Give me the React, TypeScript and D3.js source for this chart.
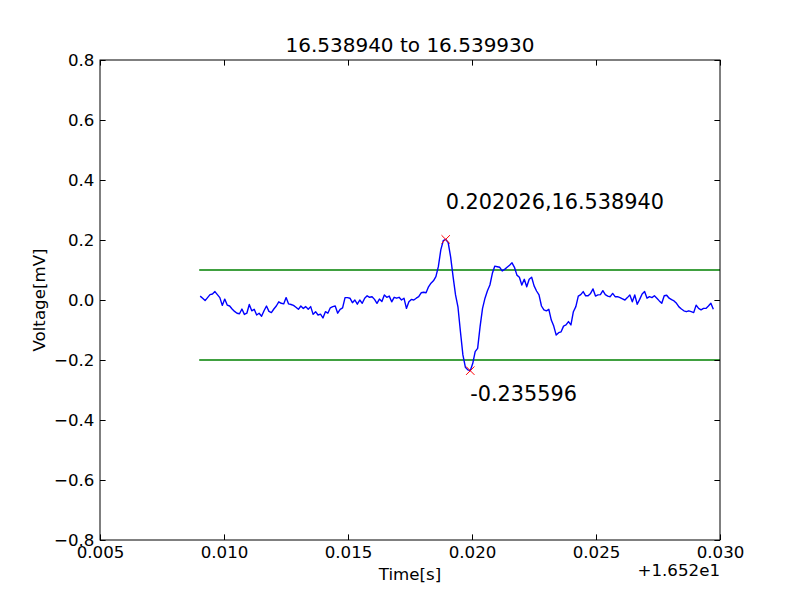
import * as d3 from "d3";
import { useRef, useEffect } from "react";

// recorded voltage samples (mV), one every samplePeriod seconds from sampleStart
const sampleStart = 0.00904; // relative to the 16.52 s offset
const samplePeriod = 0.000099;
const voltage = [
  0.013, 0.006, -0.002, 0.008, 0.018, 0.020, 0.028, 0.018, 0.008, -0.018,
  0.003, -0.017, -0.020, -0.030, -0.038, -0.044, -0.046, -0.030, -0.048, -0.044,
  -0.015, -0.036, -0.031, -0.050, -0.044, -0.054, -0.036, -0.020, -0.038, -0.042,
  -0.030, -0.020, -0.006, -0.011, -0.013, 0.008, -0.013, -0.015, -0.018, -0.024,
  -0.031, -0.020, -0.028, -0.022, -0.031, -0.022, -0.048, -0.039, -0.050, -0.047,
  -0.060, -0.039, -0.044, -0.026, -0.022, -0.020, -0.044, -0.031, -0.026, 0.008,
  0.008, 0.006, -0.009, 0.000, -0.014, 0.000, -0.011, 0.006, 0.014, 0.009,
  0.011, 0.002, -0.011, 0.003, -0.005, 0.017, 0.009, 0.013, -0.006, 0.009,
  0.006, 0.009, 0.000, 0.006, -0.028, -0.006, 0.002, 0.000, 0.006, 0.011,
  0.024, 0.026, 0.024, 0.044, 0.056, 0.064, 0.078, 0.111, 0.167, 0.198,
  0.202026, 0.191, 0.144, 0.078, 0.017, -0.024, -0.106, -0.183, -0.224, -0.233,
  -0.235596, -0.212, -0.172, -0.161, -0.089, -0.028, 0.006, 0.031, 0.050, 0.089,
  0.113, 0.111, 0.109, 0.097, 0.102, 0.109, 0.116, 0.124, 0.109, 0.083,
  0.076, 0.050, 0.069, 0.044, 0.069, 0.076, 0.047, 0.030, 0.017, -0.020,
  -0.033, -0.036, -0.031, -0.067, -0.087, -0.117, -0.109, -0.106, -0.087, -0.083,
  -0.072, -0.083, -0.039, -0.022, 0.013, 0.018, 0.028, 0.014, 0.014, 0.022,
  0.037, 0.013, 0.017, 0.018, 0.031, 0.018, 0.013, 0.011, 0.022, 0.011,
  0.011, 0.008, 0.004, 0.000, 0.008, 0.017, -0.006, 0.017, -0.014, 0.002,
  0.020, 0.028, 0.006, 0.011, 0.008, 0.014, 0.006, -0.003, -0.011, 0.014,
  0.016, 0.006, 0.001, -0.003, -0.011, -0.023, -0.030, -0.036, -0.039, -0.036,
  -0.039, -0.042, -0.017, -0.028, -0.033, -0.028, -0.028, -0.020, -0.011, -0.031,
];

const timeOffset = 16.52;
const peak = { time: 16.53894, value: 0.202026 };
const trough = { time: 16.53993, value: -0.235596 };
const thresholds = [0.1, -0.2];
const thresholdSpan = [0.009, 0.030];

const xTicks = [0.005, 0.010, 0.015, 0.020, 0.025, 0.030];
const yTicks = [-0.8, -0.6, -0.4, -0.2, 0.0, 0.2, 0.4, 0.6, 0.8];

const width = 800;
const height = 600;
const margin = { top: 60, right: 80, bottom: 60, left: 100 };
const font = "'DejaVu Sans', sans-serif";

export default function App() {
  const ref = useRef(null);

  useEffect(() => {
    const svg = d3.select(ref.current);
    svg.selectAll("*").remove();

    const x = d3.scaleLinear().domain([0.005, 0.030]).range([margin.left, width - margin.right]);
    const y = d3.scaleLinear().domain([-0.8, 0.8]).range([height - margin.bottom, margin.top]);
    const tickLen = 5.6;

    svg.append("rect").attr("width", width).attr("height", height).attr("fill", "#fff");

    // threshold lines
    svg.selectAll(".thr")
      .data(thresholds)
      .join("line")
      .attr("x1", x(thresholdSpan[0]))
      .attr("x2", x(thresholdSpan[1]))
      .attr("y1", d => y(d))
      .attr("y2", d => y(d))
      .attr("stroke", "#008000")
      .attr("stroke-width", 1.4);

    const line = d3.line()
      .x((d, i) => x(sampleStart + i * samplePeriod))
      .y(d => y(d));

    svg.append("path")
      .attr("d", line(voltage))
      .attr("fill", "none")
      .attr("stroke", "#0000ff")
      .attr("stroke-width", 1.4)
      .attr("stroke-linejoin", "round");

    // red x markers
    const s = 4.2;
    [peak, trough].forEach(p => {
      const cx = x(p.time - timeOffset);
      const cy = y(p.value);
      svg.append("path")
        .attr("d", `M${cx - s},${cy - s}L${cx + s},${cy + s}M${cx - s},${cy + s}L${cx + s},${cy - s}`)
        .attr("stroke", "#ff0000")
        .attr("stroke-width", 1)
        .attr("fill", "none");
    });

    svg.append("text")
      .attr("x", x(peak.time - timeOffset))
      .attr("y", y(peak.value + 0.1))
      .attr("font-family", font)
      .attr("font-size", 20.8)
      .text(`${peak.value.toFixed(6)},${peak.time.toFixed(6)}`);

    svg.append("text")
      .attr("x", x(trough.time - timeOffset))
      .attr("y", y(trough.value - 0.1))
      .attr("font-family", font)
      .attr("font-size", 20.8)
      .text(`${trough.value.toFixed(6)}`);

    // frame
    svg.append("rect")
      .attr("x", margin.left)
      .attr("y", margin.top)
      .attr("width", width - margin.left - margin.right)
      .attr("height", height - margin.top - margin.bottom)
      .attr("fill", "none")
      .attr("stroke", "#000")
      .attr("stroke-width", 1);

    const fmtY = (d: number) => d3.format(".1f")(d).replace("-", "\u2212");

    const addAxis = (axis, tx, ty, labels) => {
      const g = svg.append("g").attr("transform", `translate(${tx},${ty})`).call(axis);
      g.select(".domain").remove();
      g.selectAll(".tick line").attr("stroke", "#000");
      g.selectAll("text").attr("font-family", font).attr("font-size", 16.67).attr("fill", "#000");
      if (!labels) g.selectAll("text").remove();
      return g;
    };

    addAxis(
      d3.axisBottom(x).tickValues(xTicks).tickSize(-tickLen).tickPadding(5.8).tickFormat(d3.format(".3f")),
      0, height - margin.bottom, true,
    );
    addAxis(d3.axisTop(x).tickValues(xTicks).tickSize(-tickLen), 0, margin.top, false);
    addAxis(
      d3.axisLeft(y).tickValues(yTicks).tickSize(-tickLen).tickPadding(5.6).tickFormat(fmtY),
      margin.left, 0, true,
    );
    addAxis(d3.axisRight(y).tickValues(yTicks).tickSize(-tickLen), width - margin.right, 0, false);

    svg.append("text")
      .attr("x", width - margin.right)
      .attr("y", 576)
      .attr("text-anchor", "end")
      .attr("font-family", font)
      .attr("font-size", 16.67)
      .text("+1.652e1");

    svg.append("text")
      .attr("x", 410)
      .attr("y", 580)
      .attr("text-anchor", "middle")
      .attr("font-family", font)
      .attr("font-size", 16.67)
      .text("Time[s]");

    svg.append("text")
      .attr("transform", "translate(45,300) rotate(-90)")
      .attr("text-anchor", "middle")
      .attr("font-family", font)
      .attr("font-size", 16.67)
      .text("Voltage[mV]");

    svg.append("text")
      .attr("x", 410)
      .attr("y", 52)
      .attr("text-anchor", "middle")
      .attr("font-family", font)
      .attr("font-size", 20)
      .text(`${peak.time.toFixed(6)} to ${trough.time.toFixed(6)}`);
  }, []);

  return (
    <svg
      ref={ref}
      width={width}
      height={height}
      style={{ position: "absolute", left: 0, top: 0, display: "block" }}
    />
  );
}
